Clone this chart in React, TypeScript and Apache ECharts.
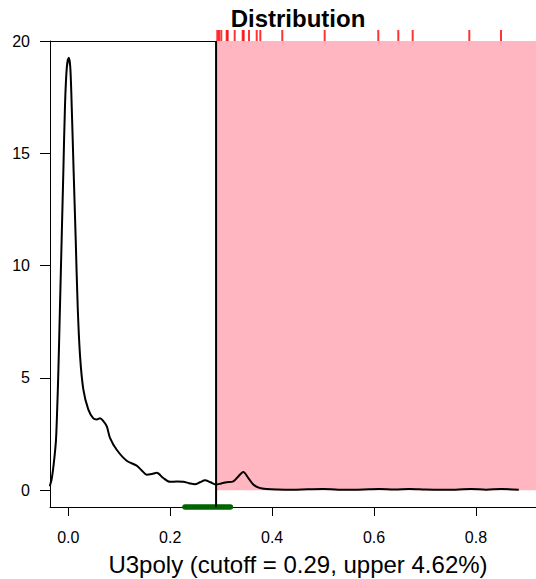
import React, { useEffect, useRef } from "react";
import * as echarts from "echarts";

// Density curve (x, density)
const densityX = [
  -0.0365, -0.033, -0.03, -0.027, -0.0241, -0.0218, -0.0196, -0.0163, -0.013, -0.0098,
  -0.0065, -0.003, 0.001, 0.004, 0.0067, 0.0106, 0.0145, 0.0184, 0.023, 0.0294,
  0.0392, 0.0491, 0.056, 0.0622, 0.068, 0.0754, 0.0818, 0.095, 0.1146, 0.1342,
  0.144, 0.1538, 0.164, 0.1735, 0.1864, 0.1996, 0.213, 0.2257, 0.237, 0.2486,
  0.2583, 0.2683, 0.279, 0.2893, 0.3, 0.3108, 0.3238, 0.334, 0.3434, 0.353,
  0.363, 0.375, 0.3893, 0.41, 0.44, 0.47, 0.5, 0.53, 0.56, 0.59,
  0.61, 0.64, 0.67, 0.7, 0.73, 0.76, 0.79, 0.82, 0.85, 0.884,
];
const densityY = [
  0.17, 0.45, 0.9, 1.5, 2.25, 3.6, 5.2, 8.2, 11.2, 14.1,
  17.1, 18.8, 19.25, 18.8, 17.1, 14.1, 11.2, 8.2, 6.0, 4.5,
  3.6, 3.2, 3.15, 3.2, 3.1, 2.85, 2.33, 1.8, 1.31, 1.09,
  0.88, 0.69, 0.72, 0.77, 0.54, 0.37, 0.38, 0.37, 0.31, 0.26,
  0.35, 0.44, 0.35, 0.25, 0.3, 0.35, 0.39, 0.62, 0.81, 0.55,
  0.25, 0.1, 0.05, 0.03, 0.02, 0.04, 0.05, 0.02, 0.02, 0.04,
  0.05, 0.03, 0.05, 0.03, 0.02, 0.02, 0.05, 0.02, 0.05, 0.02,
];

// Rug marks for the upper values
const rugValues = [
  0.2924, 0.2957, 0.3002, 0.3108, 0.3128, 0.3265, 0.3422, 0.3442, 0.3546,
  0.3697, 0.3768, 0.4199, 0.5031, 0.6083, 0.6476, 0.6758, 0.7869, 0.8491,
];

const cutoff = 0.29;
const ciRange = [0.229, 0.318];
const xTicks = [0, 0.2, 0.4, 0.6, 0.8];
const yTicks = [0, 5, 10, 15, 20];
const titleText = "Distribution";
const xAxisName = "U3poly (cutoff = 0.29, upper 4.62%)";

const X_MIN = -0.0359;
const X_MAX = 0.9374;
const Y_MIN = -0.75;
const Y_MAX = 20;

const FONT = "'Liberation Sans', Arial, Helvetica, sans-serif";

export default function App() {
  const ref = useRef<HTMLDivElement>(null);

  useEffect(() => {
    if (!ref.current) return;
    const chart = echarts.init(ref.current, undefined, { renderer: "svg" });
    const axisLineStyle = { color: "#000", width: 1 };
    chart.setOption({
      animation: false,
      backgroundColor: "#fff",
      textStyle: { fontFamily: FONT },
      graphic: [
        {
          type: "text",
          x: 298,
          y: 18,
          style: {
            text: titleText,
            fontSize: 24,
            fontWeight: "bold",
            fontFamily: FONT,
            fill: "#000",
            align: "center",
            verticalAlign: "middle",
          },
        },
      ],
      grid: [
        { left: 50, right: -10, top: 41, bottom: 72, outerBoundsMode: "none", containLabel: false },
        { left: 50, right: -10, top: 30, height: 11, outerBoundsMode: "none", containLabel: false },
      ],
      xAxis: [
        {
          gridIndex: 0,
          type: "value",
          min: X_MIN,
          max: X_MAX,
          axisLine: { show: true, onZero: false, lineStyle: axisLineStyle },
          axisTick: { show: true, length: 9, customValues: xTicks, lineStyle: axisLineStyle },
          axisLabel: {
            customValues: xTicks,
            formatter: (v: number) => v.toFixed(1),
            margin: 22,
            fontSize: 16,
            color: "#000",
            fontFamily: FONT,
          },
          splitLine: { show: false },
          name: xAxisName,
          nameLocation: "middle",
          nameGap: 45,
          nameTextStyle: { fontSize: 24, color: "#000", fontFamily: FONT },
        },
        {
          gridIndex: 1,
          type: "value",
          min: X_MIN,
          max: X_MAX,
          axisLine: { show: true, onZero: false, lineStyle: axisLineStyle },
          axisTick: { show: false },
          axisLabel: { show: false },
          splitLine: { show: false },
        },
      ],
      yAxis: [
        {
          gridIndex: 0,
          type: "value",
          min: Y_MIN,
          max: Y_MAX,
          axisLine: { show: true, onZero: false, lineStyle: axisLineStyle },
          axisTick: { show: true, length: 10, customValues: yTicks, lineStyle: axisLineStyle },
          axisLabel: {
            customValues: yTicks,
            margin: 20,
            fontSize: 16,
            color: "#000",
            fontFamily: FONT,
          },
          splitLine: { show: false },
        },
        {
          gridIndex: 1,
          type: "value",
          min: 0,
          max: 1,
          show: false,
        },
      ],
      series: [
        {
          name: "upper",
          type: "line",
          xAxisIndex: 0,
          yAxisIndex: 0,
          data: [
            [cutoff, Y_MAX],
            [X_MAX, Y_MAX],
          ],
          symbol: "none",
          lineStyle: { width: 0 },
          areaStyle: { color: "#FFB6C1", opacity: 1, origin: 0 },
          z: 1,
          silent: true,
        },
        {
          name: "ci",
          type: "line",
          xAxisIndex: 0,
          yAxisIndex: 0,
          data: [
            [ciRange[0], Y_MIN],
            [ciRange[1], Y_MIN],
          ],
          symbol: "none",
          clip: false,
          lineStyle: { color: "#006400", width: 5.5, cap: "round" },
          z: 2,
          silent: true,
        },
        {
          name: "density",
          type: "line",
          xAxisIndex: 0,
          yAxisIndex: 0,
          data: densityX.map((x, i) => [x, densityY[i]]),
          symbol: "none",
          smooth: 0.3,
          lineStyle: { color: "#000", width: 2 },
          z: 3,
          silent: true,
        },
        {
          name: "cutoff",
          type: "line",
          xAxisIndex: 0,
          yAxisIndex: 0,
          data: [
            [cutoff, Y_MIN],
            [cutoff, Y_MAX],
          ],
          symbol: "none",
          lineStyle: { color: "#000", width: 2 },
          z: 4,
          silent: true,
        },
        {
          name: "rug",
          type: "scatter",
          xAxisIndex: 1,
          yAxisIndex: 1,
          data: rugValues.map((v) => [v, 0.5]),
          symbol: "rect",
          symbolSize: [2, 11],
          itemStyle: { color: "#FF0000" },
          z: 5,
          silent: true,
        },
      ],
    });
    return () => chart.dispose();
  }, []);

  return (
    <div
      ref={ref}
      style={{ position: "absolute", left: 0, top: 0, width: 536, height: 579 }}
    />
  );
}
